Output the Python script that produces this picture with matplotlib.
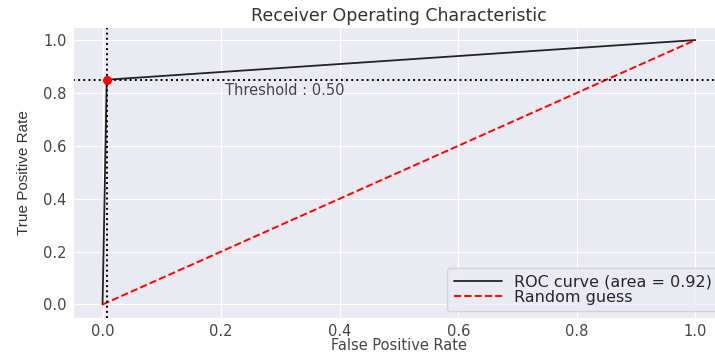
import matplotlib
matplotlib.use("Agg")
import matplotlib.pyplot as plt
import seaborn as sns

# ROC points
fpr = [0.0, 0.007, 1.0]
tpr = [0.0, 0.85, 1.0]
roc_auc = 0.92
threshold = 0.50
guess_x = [0, 1]
guess_y = [0, 1]

sns.set_style("darkgrid")
plt.rcParams['font.family'] = ['DejaVu Sans']

fig = plt.figure(figsize=(7.15, 3.53), dpi=100)
ax = fig.add_axes([0.102, 0.1, 0.912, 0.824])

ax.plot(fpr, tpr, color='#222222', lw=1.3, label='ROC curve (area = %0.2f)' % roc_auc)
ax.plot(guess_x, guess_y, 'r--', lw=1.4, label='Random guess')

# mark the chosen threshold
ax.axvline(fpr[1], color='k', ls=':', lw=1.4)
ax.axhline(tpr[1], color='k', ls=':', lw=1.4)
ax.plot(fpr[1], tpr[1], 'o', color='red', ms=5.5)
ax.text(fpr[1] + 0.2, tpr[1] - 0.068, 'Threshold : %.2f' % threshold,
        fontsize=10.5, color='#444444', va='bottom')

ax.set_xlim(-0.05, 1.05)
ax.set_ylim(-0.05, 1.05)
ax.tick_params(labelsize=10.5, colors='#444444', pad=1)
ax.set_title('Receiver Operating Characteristic', fontsize=12.5, color='#333333', pad=4)
ax.set_xlabel('False Positive Rate', fontsize=10.5, color='#444444', labelpad=-1)
ax.set_ylabel('True Positive Rate', fontsize=11, color='#333333', labelpad=9,
              family=['Liberation Sans', 'DejaVu Sans'])
ax.legend(loc='lower right', fontsize=11.5, handlelength=3, labelspacing=0.05,
          borderaxespad=0.4)

fig.savefig('out.png', dpi=100)
